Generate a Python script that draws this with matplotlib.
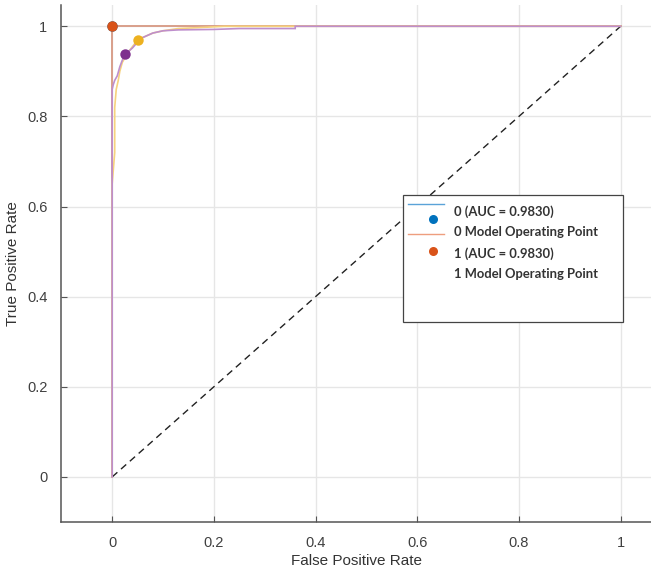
import matplotlib
matplotlib.use("Agg")
import matplotlib.pyplot as plt
from matplotlib.lines import Line2D
from matplotlib.patches import Rectangle

# ---------------- data ----------------
fpr0 = [0.0, 0.0, 1.0]
tpr0 = [0.0, 1.0, 1.0]
fpr1 = [0.0, 0.0, 1.0]
tpr1 = [0.0, 1.0, 1.0]
fpr2 = [0.0, 0.0, 0.005, 0.005, 0.008, 0.012, 0.015, 0.02, 0.03, 0.04, 0.05,
        0.06, 0.08, 0.1, 0.13, 0.17, 0.22, 1.0]
tpr2 = [0.0, 0.65, 0.72, 0.82, 0.86, 0.88, 0.90, 0.92, 0.94, 0.955, 0.97,
        0.975, 0.985, 0.99, 0.995, 0.997, 1.0, 1.0]
fpr3 = [0.0, 0.0, 0.002, 0.005, 0.01, 0.015, 0.02, 0.025, 0.03, 0.04, 0.05,
        0.06, 0.07, 0.08, 0.1, 0.13, 0.2, 0.25, 0.36, 0.36, 1.0]
tpr3 = [0.0, 0.86, 0.87, 0.88, 0.89, 0.91, 0.925, 0.937, 0.942, 0.952, 0.965,
        0.975, 0.98, 0.985, 0.99, 0.992, 0.993, 0.995, 0.995, 1.0, 1.0]
op_x = [0.0, 0.0, 0.0505, 0.0243]
op_y = [1.0, 1.0, 0.97, 0.938]
auc_labels = ["0 (AUC = 0.9830)", "1 (AUC = 0.9830)"]
op_labels = ["0 Model Operating Point", "1 Model Operating Point"]
xticks = [0, 0.2, 0.4, 0.6, 0.8, 1]
yticks = [0, 0.2, 0.4, 0.6, 0.8, 1]
xtick_labels = ["0", "0.2", "0.4", "0.6", "0.8", "1"]
ytick_labels = ["0", "0.2", "0.4", "0.6", "0.8", "1"]

marker_colors = ["#0072BD", "#D95319", "#EDB120", "#7E2F8E"]
line_colors = ["#5AA3D8", "#EE9E7E", "#F6D27E", "#BE8ECC"]

plt.rcParams['font.family'] = ['Liberation Sans', 'DejaVu Sans']

fig = plt.figure(figsize=(6.51, 5.67), dpi=100)
ax = fig.add_axes([0.0942, 0.0794, 0.906, 0.9116])

ax.set_xlim(-0.1, 1.06)
ax.set_ylim(-0.1, 1.047)

ax.grid(True, color="#e6e6e6", linewidth=1.0)
ax.set_axisbelow(True)

ax.plot([0, 1], [0, 1], linestyle=(0, (5, 3.5)), color="#222222", linewidth=1.0)

curves = [(fpr0, tpr0), (fpr1, tpr1), (fpr2, tpr2), (fpr3, tpr3)]
for (fx, ty), c in zip(curves, line_colors):
    ax.plot(fx, ty, color=c, linewidth=1.2, solid_joinstyle='miter')
for xx, yy, c in zip(op_x, op_y, marker_colors):
    ax.plot([xx], [yy], 'o', color=c, markersize=7.5, markeredgewidth=0)

for s in ["top", "right"]:
    ax.spines[s].set_visible(False)
for s in ["left", "bottom"]:
    ax.spines[s].set_color("#555555")
    ax.spines[s].set_linewidth(1.1)

ax.set_xticks(xticks)
ax.set_xticklabels(xtick_labels)
ax.set_yticks(yticks)
ax.set_yticklabels(ytick_labels)
ax.tick_params(direction="in", length=4, width=0.8, color="#555555",
               labelsize=10.5, labelcolor="#404040", pad=10)
ax.set_xlabel("False Positive Rate", fontsize=11, color="#333333", labelpad=3)
ax.set_ylabel("True Positive Rate", fontsize=11, color="#333333", labelpad=5)

# ---------- legend (drawn in axes fraction) ----------
tr = ax.transAxes
ax.add_patch(Rectangle((0.5795, 0.3868), 0.9525 - 0.5795, 0.6325 - 0.3868,
                       transform=tr, facecolor="white", edgecolor="#444444",
                       linewidth=0.9, zorder=5))
hy = [0.615, 0.586, 0.557, 0.524]
ax.add_line(Line2D([0.5874, 0.6495], [hy[0], hy[0]], transform=tr,
                   color=line_colors[0], linewidth=1.0, zorder=6))
ax.add_line(Line2D([0.6304], [hy[1]], transform=tr, marker='o', color=marker_colors[0],
                   markersize=6.5, markeredgewidth=0, zorder=6))
ax.add_line(Line2D([0.5874, 0.6495], [hy[2], hy[2]], transform=tr,
                   color=line_colors[1], linewidth=1.0, zorder=6))
ax.add_line(Line2D([0.6304], [hy[3]], transform=tr, marker='o', color=marker_colors[1],
                   markersize=6.5, markeredgewidth=0, zorder=6))
ty = [0.5996, 0.561, 0.520, 0.480]
labels = [auc_labels[0], op_labels[0], auc_labels[1], op_labels[1]]
for y, lab in zip(ty, labels):
    ax.text(0.666, y, lab, transform=tr, va="center", ha="left", fontsize=9.4,
            fontweight="bold", color="#333333", family=["Lato", "DejaVu Sans"], zorder=7)

fig.savefig("out.png", dpi=100)
